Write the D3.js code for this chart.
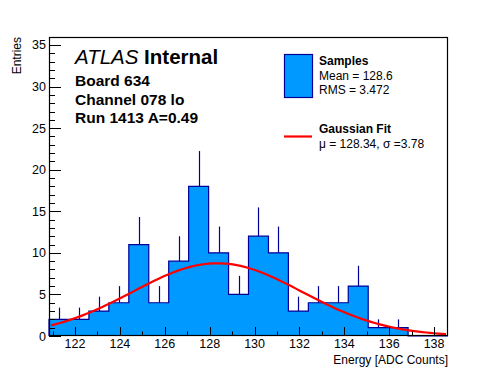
<!DOCTYPE html>
<html><head><meta charset="utf-8">
<script src="https://cdn.jsdelivr.net/npm/d3@7"></script>
<style>
html,body{margin:0;padding:0;background:#fff;}
svg{display:block;font-family:"Liberation Sans",Arial,Helvetica,sans-serif;}
</style></head>
<body>
<svg id="c" width="498" height="374"></svg>
<script>
// ---- data ----
const binCounts = [2,2,3,4,11,4,9,18,10,5,12,10,3,4,4,6,1,1,0,0];
const xRange = [120.84, 138.62];
const yRange = [0, 35.96];
const xMajorTicks = [122,124,126,128,130,132,134,136,138];
const xMinorTicks = [121,123,125,127,129,131,133,135,137];
const yMajorTicks = [0,5,10,15,20,25,30,35];
const fitParams = {amp: 8.75, mu: 128.34, sigma: 3.78};
const infoLines = ["Board 634","Channel 078 lo","Run 1413 A=0.49"];
const legendSamples = ["Samples","Mean = 128.6","RMS = 3.472"];
const legendFit = ["Gaussian Fit","\u03bc = 128.34, \u03c3 =3.78"];

const svg = d3.select("#c");
const L=49,R=448,T=37,B=336;
const x = d3.scaleLinear().domain(xRange).range([L,R]);
const y = d3.scaleLinear().domain(yRange).range([B,T]);
const nb = binCounts.length;
const bw = (xRange[1]-xRange[0])/nb;
const bins = binCounts.map((c,i)=>({lo:xRange[0]+i*bw, hi:xRange[0]+(i+1)*bw, c}));

const FILL="#0099ff", EDGE="#000099";

// fill
const stepPts=[];
stepPts.push([x(bins[0].lo), y(0)]);
bins.forEach(b=>{stepPts.push([x(b.lo),y(b.c)]);stepPts.push([x(b.hi),y(b.c)]);});
stepPts.push([x(bins[nb-1].hi), y(0)]);
svg.append("path").attr("d", d3.line()(stepPts)+"Z").attr("fill",FILL).attr("stroke","none");
svg.append("path").attr("d", d3.line()(stepPts)).attr("fill","none").attr("stroke",EDGE).attr("stroke-width",1.2);

// error bars (upper part visible)
svg.append("g").selectAll("line").data(bins.filter(b=>b.c>0)).join("line")
  .attr("x1",b=>Math.round(x((b.lo+b.hi)/2))+0.5).attr("x2",b=>Math.round(x((b.lo+b.hi)/2))+0.5)
  .attr("y1",b=>y(b.c)).attr("y2",b=>y(b.c+Math.sqrt(b.c)))
  .attr("stroke",EDGE).attr("stroke-width",1.2);

// gaussian fit curve
const gauss = v => fitParams.amp*Math.exp(-0.5*Math.pow((v-fitParams.mu)/fitParams.sigma,2));
const xs = d3.range(0,101).map(i=>xRange[0]+ (xRange[1]-xRange[0])*(0.005+0.99*i/100));
svg.append("path").attr("d", d3.line().x(v=>x(v)).y(v=>y(gauss(v)))(xs))
  .attr("fill","none").attr("stroke","#ff0000").attr("stroke-width",2.2);

// axes ticks
const ax = svg.append("g").attr("stroke","#000").attr("stroke-width",1);
xMajorTicks.forEach(v=>ax.append("line").attr("x1",Math.round(x(v))+0.5).attr("x2",Math.round(x(v))+0.5).attr("y1",B).attr("y2",B-9));
xMinorTicks.forEach(v=>ax.append("line").attr("x1",Math.round(x(v))+0.5).attr("x2",Math.round(x(v))+0.5).attr("y1",B).attr("y2",B-4.5));
yMajorTicks.forEach(v=>ax.append("line").attr("x1",L).attr("x2",L+12).attr("y1",Math.round(y(v))+0.5).attr("y2",Math.round(y(v))+0.5));
d3.range(0,36).filter(v=>v%5!==0).forEach(v=>ax.append("line").attr("x1",L).attr("x2",L+6).attr("y1",Math.round(y(v))+0.5).attr("y2",Math.round(y(v))+0.5));

// frame
svg.append("rect").attr("x",L+0.5).attr("y",T+0.5).attr("width",R-L-1).attr("height",B-T-1)
  .attr("fill","none").attr("stroke","#000").attr("stroke-width",1.2);

// tick labels
const tl = svg.append("g").attr("font-size",12.5).attr("fill","#000");
xMajorTicks.forEach(v=>tl.append("text").attr("x",x(v)).attr("y",348).attr("text-anchor","middle").text(v));
yMajorTicks.forEach(v=>tl.append("text").attr("x",46).attr("y",y(v)+4.5).attr("text-anchor","end").text(v));

// axis titles
svg.append("text").attr("x",R).attr("y",364).attr("text-anchor","end").attr("font-size",12).text("Energy [ADC Counts]");
svg.append("text").attr("transform","translate(21,37) rotate(-90)").attr("text-anchor","end").attr("font-size",12).text("Entries");

// ATLAS label
const at = svg.append("text").attr("x",75).attr("y",64).attr("font-size",20.5);
at.append("tspan").attr("font-style","italic").text("ATLAS");
at.append("tspan").attr("font-weight","bold").text(" Internal");
infoLines.forEach((t,i)=>svg.append("text").attr("x",75).attr("y",86+i*18.5).attr("font-size",15.5).attr("font-weight","bold").text(t));

// legend
svg.append("rect").attr("x",284.5).attr("y",54.5).attr("width",28).attr("height",43).attr("fill",FILL).attr("stroke",EDGE).attr("stroke-width",1.2);
svg.append("text").attr("x",319).attr("y",65).attr("font-size",12).attr("font-weight","bold").text(legendSamples[0]);
svg.append("text").attr("x",319).attr("y",80).attr("font-size",12).text(legendSamples[1]);
svg.append("text").attr("x",319).attr("y",94).attr("font-size",12).text(legendSamples[2]);
svg.append("line").attr("x1",284).attr("x2",312).attr("y1",136.5).attr("y2",136.5).attr("stroke","#ff0000").attr("stroke-width",2.2);
svg.append("text").attr("x",319).attr("y",133).attr("font-size",12).attr("font-weight","bold").text(legendFit[0]);
svg.append("text").attr("x",319).attr("y",148).attr("font-size",12).text(legendFit[1]);
</script>
</body></html>
